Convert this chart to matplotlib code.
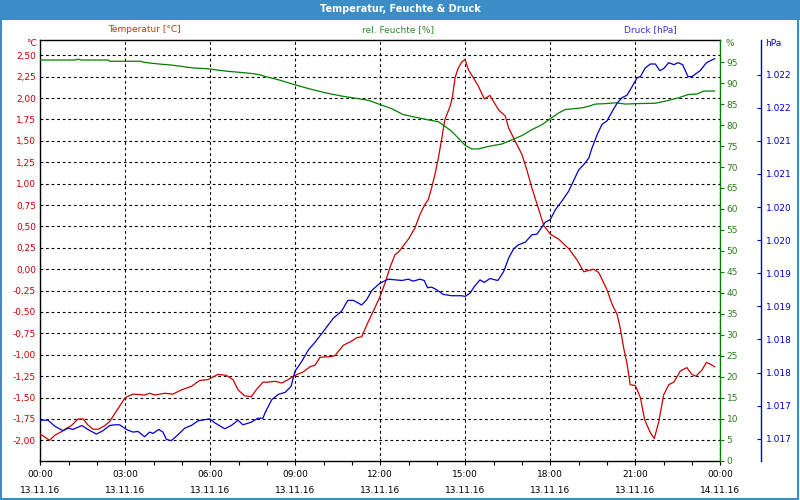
import numpy as np
import matplotlib
matplotlib.use("Agg")
import matplotlib.pyplot as plt
from matplotlib.patches import Rectangle
from matplotlib.ticker import FuncFormatter

# ---------- Daten (Stunden ab 13.11.16 00:00) ----------
t_temp = [0.01, 0.33, 0.51, 0.74, 0.92, 1.09, 1.33, 1.51, 1.68, 1.86, 2.04, 2.27, 2.45, 2.68,
          3.00, 3.27, 3.68, 3.86, 4.04, 4.39, 4.68, 4.98, 5.33, 5.63, 5.92, 6.27, 6.56, 6.80,
          6.98, 7.21, 7.45, 7.62, 7.86, 8.04, 8.28, 8.52, 8.75, 8.99, 9.28, 9.52, 9.70, 9.87,
          10.28, 10.40, 10.69, 10.99, 11.17, 11.34, 11.58, 11.81, 11.99, 12.17, 12.34, 12.52,
          12.64, 12.76, 12.99, 13.22, 13.40, 13.58, 13.69, 13.81, 13.93, 14.05, 14.17, 14.28,
          14.46, 14.54, 14.64, 14.75, 14.87, 14.99, 15.11, 15.28, 15.46, 15.67, 15.87, 16.05,
          16.18, 16.41, 16.53, 16.71, 17.00, 17.18, 17.35, 17.59, 17.77, 18.00, 18.30, 18.65,
          18.94, 19.18, 19.53, 19.71, 20.00, 20.18, 20.36, 20.47, 20.59, 20.71, 20.82, 21.00,
          21.18, 21.33, 21.53, 21.67, 21.83, 22.00, 22.18, 22.36, 22.59, 22.82, 23.00, 23.14,
          23.35, 23.51, 23.65, 23.80]
temp = [-1.93, -2.00, -1.94, -1.90, -1.86, -1.83, -1.75, -1.75, -1.82, -1.87, -1.87, -1.83, -1.78, -1.66,
        -1.50, -1.46, -1.47, -1.45, -1.47, -1.45, -1.46, -1.41, -1.37, -1.30, -1.29, -1.23, -1.24, -1.29,
        -1.41, -1.48, -1.49, -1.41, -1.32, -1.32, -1.31, -1.33, -1.29, -1.24, -1.20, -1.14, -1.12, -1.03,
        -1.02, -1.01, -0.89, -0.84, -0.80, -0.79, -0.61, -0.45, -0.32, -0.16, 0.02, 0.17,
        0.20, 0.25, 0.35, 0.48, 0.64, 0.76, 0.81, 0.95, 1.11, 1.30, 1.53, 1.75,
        1.90, 2.00, 2.24, 2.35, 2.42, 2.45, 2.33, 2.24, 2.14, 1.99, 2.03, 1.93,
        1.86, 1.79, 1.65, 1.53, 1.34, 1.15, 0.95, 0.70, 0.51, 0.41, 0.35, 0.24,
        0.11, -0.03, 0.00, -0.04, -0.24, -0.41, -0.53, -0.69, -0.92, -1.11, -1.35, -1.36,
        -1.50, -1.76, -1.91, -1.98, -1.78, -1.47, -1.35, -1.32, -1.19, -1.15, -1.23, -1.25,
        -1.18, -1.09, -1.11, -1.14]

t_hum = [0.01, 1.25, 1.33, 1.45, 2.41, 2.45, 3.56, 3.62, 3.98, 4.27, 4.62, 4.98, 5.15, 5.45,
         5.92, 6.27, 6.62, 6.98, 7.45, 7.74, 7.93, 8.40, 8.99, 9.46, 10.05, 10.64, 11.22, 11.58,
         11.99, 12.40, 12.81, 13.22, 13.64, 14.05, 14.28, 14.52, 14.75, 14.99, 15.23, 15.46,
         15.81, 16.05, 16.30, 16.65, 17.00, 17.35, 17.71, 18.00, 18.30, 18.53, 18.83, 19.12,
         19.36, 19.59, 19.94, 20.29, 20.65, 21.00, 21.71, 22.06, 22.53, 22.88, 23.18, 23.41, 23.80]
hum = [95.5, 95.5, 95.7, 95.5, 95.5, 95.2, 95.2, 95.0, 94.7, 94.5, 94.3, 94.0, 93.8, 93.6,
       93.4, 93.1, 92.8, 92.6, 92.3, 92.0, 91.6, 90.8, 89.6, 88.7, 87.7, 86.9, 86.3, 85.9,
       84.9, 83.9, 82.5, 81.9, 81.3, 80.8, 79.7, 78.5, 76.9, 75.2, 74.3, 74.3,
       74.9, 75.2, 75.5, 76.5, 77.5, 78.9, 80.1, 81.5, 82.9, 83.7, 83.9, 84.1,
       84.5, 85.0, 85.1, 85.3, 85.0, 85.1, 85.2, 85.7, 86.5, 87.3, 87.4, 88.1, 88.1]

t_druck = [0.01, 0.27, 0.51, 0.80, 0.98, 1.15, 1.47, 1.68, 1.98, 2.21, 2.45, 2.63, 2.80, 3.04,
           3.27, 3.45, 3.68, 3.86, 3.98, 4.18, 4.33, 4.45, 4.62, 4.86, 5.10, 5.33, 5.57, 5.98,
           6.16, 6.51, 6.74, 6.98, 7.15, 7.45, 7.68, 7.86,
           7.93, 8.17, 8.40, 8.64, 8.85, 8.99, 9.23, 9.46, 9.70, 9.99, 10.34, 10.64, 10.85, 11.05,
           11.34, 11.52, 11.70, 11.99, 12.28, 12.76, 12.99, 13.16, 13.40, 13.55, 13.67, 13.81,
           13.99, 14.22, 14.52, 14.87, 14.99, 15.17, 15.32, 15.52, 15.67, 15.87, 16.05,
           16.15, 16.36, 16.53, 16.71, 16.88, 17.12, 17.35, 17.53, 17.82, 18.00, 18.18, 18.41,
           18.65, 18.76, 19.00, 19.18, 19.36, 19.47, 19.68, 19.83, 20.00, 20.18, 20.36, 20.53,
           20.71, 20.89, 21.06, 21.18, 21.35, 21.53, 21.71, 21.86, 22.00, 22.18, 22.36, 22.51,
           22.67, 22.86, 23.00, 23.29, 23.51, 23.80]
druck = [1.01728, 1.01728, 1.01719, 1.01712, 1.01716, 1.01714, 1.01720, 1.01714, 1.01707, 1.01712,
         1.01720, 1.01721, 1.01721, 1.01714, 1.01710, 1.01711, 1.01703, 1.01710, 1.01708, 1.01714,
         1.01710, 1.01699, 1.01697, 1.01706, 1.01716, 1.01720, 1.01727, 1.01730, 1.01724, 1.01715,
         1.01720, 1.01728, 1.01721, 1.01725, 1.01731, 1.01731,
         1.01739, 1.01759, 1.01767, 1.01770, 1.01779, 1.01802, 1.01817, 1.01834, 1.01846, 1.01862,
         1.01882, 1.01893, 1.01909, 1.01909, 1.01902, 1.01910, 1.01924, 1.01935, 1.01941, 1.01939,
         1.01941, 1.01938, 1.01941, 1.01939, 1.01928, 1.01929, 1.01925, 1.01918, 1.01916, 1.01916,
         1.01915, 1.01920, 1.01930, 1.01940, 1.01936, 1.01942, 1.01940,
         1.01939, 1.01953, 1.01973, 1.01987, 1.01993, 1.01997, 1.02008, 1.02009, 1.02027, 1.02031,
         1.02046, 1.02059, 1.02074, 1.02084, 1.02106, 1.02114, 1.02124, 1.02139, 1.02162, 1.02175,
         1.02180, 1.02194, 1.02207, 1.02215, 1.02219, 1.02232, 1.02245, 1.02247, 1.02260, 1.02266,
         1.02266, 1.02256, 1.02259, 1.02268, 1.02265, 1.02268, 1.02265, 1.02247, 1.02247, 1.02256,
         1.02268, 1.02274]

x_labels = ["00:00\n13.11.16", "03:00\n13.11.16", "06:00\n13.11.16", "09:00\n13.11.16",
            "12:00\n13.11.16", "15:00\n13.11.16", "18:00\n13.11.16", "21:00\n13.11.16",
            "00:00\n14.11.16"]
temp_ticks = [-2.0, -1.75, -1.5, -1.25, -1.0, -0.75, -0.5, -0.25, 0.0,
              0.25, 0.5, 0.75, 1.0, 1.25, 1.5, 1.75, 2.0, 2.25, 2.5]
hum_ticks = list(range(0, 100, 5))
druck_ticks = [1.0170, 1.0175, 1.0180, 1.0185, 1.0190, 1.0195,
               1.0200, 1.0205, 1.0210, 1.0215, 1.0220, 1.0225]
druck_labels = ["1.017", "1.017", "1.018", "1.018", "1.019", "1.019",
                "1.020", "1.020", "1.021", "1.021", "1.022", "1.022"]

# ---------- Farben ----------
c_red = "#cc0000"
c_green = "#008000"
c_blue = "#0000cc"
c_bar = "#3c8dc5"
fs = 6.5

plt.rcParams['font.family'] = ['DejaVu Sans']
fig = plt.figure(figsize=(8, 5), dpi=100)
fig.patch.set_facecolor("white")

# Titelleiste + Rahmen
fig.patches.append(Rectangle((0, 1 - 20 / 500), 1, 20 / 500, transform=fig.transFigure,
                             facecolor=c_bar, edgecolor="none", zorder=0))
fig.patches.append(Rectangle((0.001, 0.002), 0.997, 0.996, transform=fig.transFigure,
                             facecolor="none", edgecolor=c_bar, lw=1.5, zorder=0))
fig.text(0.5, 1 - 9.5 / 500, "Temperatur, Feuchte & Druck", color="white",
         fontsize=7, fontweight="bold", ha="center", va="center")

ax = fig.add_axes([40.3 / 800, 39.3 / 500, 680 / 800, 420.4 / 500])
ax_h = ax.twinx()
ax_p = ax.twinx()

# ---------- Temperatur ----------
ax.plot(t_temp, temp, color=c_red, lw=0.9, zorder=5)
ax.set_xlim(0, 24)
ax.set_ylim(-2.238, 2.675)
ax.set_yticks(temp_ticks)
ax.yaxis.set_major_formatter(FuncFormatter(lambda v, p: f"{v:.2f}".replace(".", ",")))
ax.tick_params(axis="y", length=0, pad=3, labelsize=fs, labelcolor=c_red)
ax.set_xticks(range(0, 25, 3))
ax.set_xticklabels(x_labels, linespacing=2.0)
ax.set_xticks(range(0, 25, 1), minor=True)
ax.tick_params(axis="x", which="both", direction="out", length=3, width=0.8,
               labelsize=fs, pad=4)
ax.grid(True, which="major", color="black", lw=0.8, ls=(0, (2.5, 2.5)))
for s in ["left", "top", "bottom"]:
    ax.spines[s].set_linewidth(1.0)
ax.spines["right"].set_visible(False)

# ---------- Feuchte ----------
ax_h.plot(t_hum, hum, color=c_green, lw=0.9)
ax_h.set_ylim(0, 100.2)
ax_h.set_yticks(hum_ticks)
ax_h.tick_params(axis="y", direction="out", length=3, width=0.8, color=c_green,
                 pad=1.5, labelsize=fs, labelcolor="#2e7d1e")
ax_h.spines["right"].set_color(c_green)
ax_h.spines["right"].set_linewidth(1.0)
for s in ["left", "top", "bottom"]:
    ax_h.spines[s].set_visible(False)

# ---------- Druck ----------
ax_p.plot(t_druck, druck, color=c_blue, lw=0.9)
ax_p.set_ylim(1.016668, 1.023018)
ax_p.set_yticks(druck_ticks)
ax_p.set_yticklabels(druck_labels)
ax_p.spines["right"].set_position(("axes", 1.0594))
ax_p.spines["right"].set_color(c_blue)
ax_p.spines["right"].set_linewidth(1.0)
for s in ["left", "top", "bottom"]:
    ax_p.spines[s].set_visible(False)
ax_p.tick_params(axis="y", direction="in", length=3, width=0.8, color=c_blue,
                 pad=4, labelsize=fs, labelcolor=c_blue)

# Einheiten und Legendentexte
fig.text(37 / 800, 1 - 44 / 500, "°C", color=c_red, fontsize=fs, ha="right", va="center")
fig.text(725 / 800, 1 - 44 / 500, "%", color="#2e7d1e", fontsize=fs, ha="left", va="center")
fig.text(765 / 800, 1 - 44 / 500, "hPa", color=c_blue, fontsize=fs, ha="left", va="center")
fig.text(144 / 800, 1 - 30 / 500, "Temperatur [°C]", color="#cc3300", fontsize=fs, ha="center", va="center")
fig.text(398 / 800, 1 - 30 / 500, "rel. Feuchte [%]", color="#2e8b2e", fontsize=fs, ha="center", va="center")
fig.text(650 / 800, 1 - 30 / 500, "Druck [hPa]", color="#3333cc", fontsize=fs, ha="center", va="center")

fig.savefig("out.png", dpi=100)
